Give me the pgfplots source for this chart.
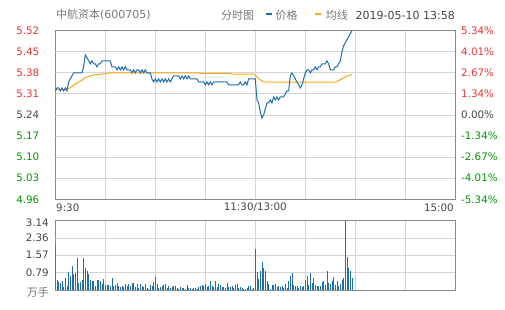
\documentclass[border=0pt]{standalone}
\usepackage{pgfplots}
\usepackage{pgfplotstable}
\pgfplotsset{compat=1.18}
\usepackage{fontspec}
\setmainfont{DejaVu Sans}
\newfontfamily\cjk{Noto Sans CJK SC}
\definecolor{pblue}{RGB}{30,110,175}
\definecolor{porange}{RGB}{250,170,20}
\definecolor{cred}{RGB}{238,50,50}
\definecolor{cgreen}{RGB}{0,150,0}
\definecolor{cdark}{RGB}{68,68,68}
\definecolor{cgray}{RGB}{120,120,120}
\definecolor{gridc}{RGB}{212,212,212}
\definecolor{borderc}{RGB}{135,135,135}

\pgfplotstableread{
t price avg vol
0 5.32 5.322 2.05
1 5.33 5.323 0.45
2 5.33 5.324 0.36
3 5.32 5.324 0.33
4 5.33 5.324 0.42
5 5.32 5.325 0.14
6 5.33 5.325 0.54
7 5.32 5.326 0.17
8 5.35 5.328 0.82
9 5.36 5.331 0.62
10 5.37 5.335 1.07
11 5.38 5.339 0.72
12 5.38 5.343 0.77
13 5.38 5.347 1.45
14 5.38 5.350 0.32
15 5.38 5.353 0.36
16 5.38 5.356 0.44
17 5.40 5.360 1.45
18 5.44 5.364 1.00
19 5.43 5.366 0.85
20 5.42 5.368 0.74
21 5.41 5.370 0.47
22 5.42 5.372 0.42
23 5.41 5.373 0.41
24 5.41 5.374 0.17
25 5.40 5.374 0.45
26 5.41 5.375 0.45
27 5.41 5.375 0.39
28 5.42 5.376 0.29
29 5.42 5.377 0.50
30 5.42 5.377 0.24
31 5.42 5.378 0.24
32 5.42 5.379 0.24
33 5.42 5.380 0.17
34 5.40 5.380 0.54
35 5.40 5.380 0.17
36 5.40 5.380 0.24
37 5.39 5.380 0.32
38 5.40 5.380 0.17
39 5.39 5.380 0.12
40 5.40 5.380 0.17
41 5.39 5.380 0.12
42 5.40 5.380 0.27
43 5.39 5.380 0.17
44 5.39 5.380 0.27
45 5.39 5.380 0.20
46 5.38 5.380 0.30
47 5.39 5.380 0.32
48 5.38 5.380 0.12
49 5.39 5.380 0.27
50 5.39 5.380 0.09
51 5.38 5.380 0.27
52 5.39 5.380 0.20
53 5.38 5.380 0.14
54 5.39 5.380 0.27
55 5.38 5.380 0.09
56 5.38 5.380 0.06
57 5.38 5.380 0.21
58 5.36 5.380 0.17
59 5.35 5.380 0.36
60 5.36 5.380 0.57
61 5.35 5.380 0.27
62 5.36 5.380 0.09
63 5.35 5.380 0.14
64 5.36 5.380 0.17
65 5.35 5.380 0.24
66 5.36 5.380 0.29
67 5.35 5.380 0.09
68 5.36 5.380 0.17
69 5.35 5.380 0.09
70 5.36 5.380 0.12
71 5.37 5.380 0.17
72 5.37 5.380 0.17
73 5.37 5.380 0.09
74 5.37 5.380 0.06
75 5.36 5.380 0.12
76 5.37 5.380 0.09
77 5.36 5.380 0.09
78 5.37 5.380 0.06
79 5.36 5.380 0.24
80 5.37 5.380 0.09
81 5.36 5.380 0.09
82 5.36 5.380 0.06
83 5.36 5.380 0.09
84 5.36 5.380 0.09
85 5.36 5.380 0.06
86 5.35 5.380 0.14
87 5.35 5.378 0.17
88 5.35 5.378 0.21
89 5.35 5.378 0.17
90 5.34 5.378 0.27
91 5.35 5.378 0.14
92 5.34 5.378 0.20
93 5.35 5.378 0.39
94 5.34 5.378 0.17
95 5.35 5.378 0.15
96 5.35 5.378 0.42
97 5.35 5.378 0.12
98 5.35 5.378 0.27
99 5.35 5.378 0.21
100 5.35 5.378 0.12
101 5.35 5.378 0.14
102 5.35 5.378 0.09
103 5.35 5.378 0.30
104 5.34 5.378 0.12
105 5.34 5.378 0.14
106 5.34 5.376 0.17
107 5.34 5.376 0.09
108 5.34 5.376 0.21
109 5.34 5.376 0.27
110 5.34 5.376 0.09
111 5.35 5.376 0.15
112 5.34 5.376 0.09
113 5.34 5.376 0.06
114 5.35 5.376 0.06
115 5.34 5.376 0.09
116 5.36 5.376 0.17
117 5.36 5.376 0.17
118 5.36 5.376 0.06
119 5.36 5.376 0.10
120 5.36 5.372 1.87
121 5.29 5.366 0.82
122 5.28 5.361 0.50
123 5.25 5.357 0.85
124 5.23 5.353 1.27
125 5.24 5.351 1.00
126 5.26 5.349 0.88
127 5.28 5.349 0.42
128 5.28 5.349 0.27
129 5.29 5.349 0.06
130 5.28 5.349 0.24
131 5.30 5.349 0.24
132 5.29 5.349 0.27
133 5.30 5.349 0.12
134 5.29 5.349 0.17
135 5.30 5.349 0.15
136 5.30 5.349 0.17
137 5.30 5.349 0.09
138 5.31 5.349 0.27
139 5.32 5.349 0.09
140 5.32 5.349 0.42
141 5.37 5.349 0.62
142 5.38 5.349 0.77
143 5.37 5.349 0.21
144 5.36 5.349 0.17
145 5.35 5.349 0.17
146 5.34 5.349 0.09
147 5.33 5.349 0.20
148 5.34 5.349 0.12
149 5.36 5.349 0.20
150 5.38 5.349 0.47
151 5.39 5.349 0.62
152 5.39 5.349 0.24
153 5.38 5.349 0.77
154 5.39 5.349 0.32
155 5.39 5.349 0.54
156 5.40 5.349 0.24
157 5.39 5.349 0.17
158 5.40 5.349 0.20
159 5.40 5.349 0.17
160 5.41 5.349 0.36
161 5.41 5.349 0.42
162 5.41 5.349 0.24
163 5.42 5.349 0.88
164 5.41 5.349 0.32
165 5.39 5.349 0.27
166 5.39 5.349 0.42
167 5.39 5.349 0.57
168 5.40 5.349 0.24
169 5.40 5.352 0.42
170 5.41 5.355 0.17
171 5.42 5.357 0.27
172 5.45 5.360 0.47
173 5.47 5.363 0.54
174 5.48 5.367 3.14
175 5.49 5.369 1.48
176 5.50 5.372 1.00
177 5.51 5.373 0.85
178 5.52 5.374 0.54
}\datatable

\begin{document}
\begin{tikzpicture}[
  lab/.style={inner sep=0pt, font=\fontsize{10.3bp}{12bp}\selectfont},
  tit/.style={inner sep=0pt, font=\fontsize{11bp}{13bp}\selectfont},
  gridline/.style={draw=gridc, line width=0.9bp}]
\useasboundingbox (0bp,0bp) rectangle (505bp,310bp);
% price panel
\begin{axis}[anchor=south west, scale only axis, width=400bp,
  at={(55.3bp,110.7bp)}, height=168.6bp,
  xmin=0, xmax=240, xtick={0,30,60,90,120,150,180,210,240},
  xticklabels={}, yticklabels={}, major tick length=0pt,
  axis line style={color=borderc, line width=1bp},
  ymin=4.96, ymax=5.52,
  ytick={4.96,5.03,5.10,5.17,5.24,5.31,5.38,5.45,5.52}]
\pgfplotsinvokeforeach{30,60,90,120,150,180,210}{
  \draw[gridline] (axis cs:#1,4.96) -- (axis cs:#1,5.52);}
\pgfplotsinvokeforeach{5.03,5.10,5.17,5.24,5.31,5.38,5.45}{
  \draw[gridline] (axis cs:0,#1) -- (axis cs:240,#1);}
\addplot[porange, line width=1bp] table[x=t, y=avg] {\datatable};
\addplot[pblue, line width=1bp] table[x=t, y=price] {\datatable};
\end{axis}
% volume panel
\begin{axis}[anchor=south west, scale only axis, width=400bp,
  at={(55.3bp,20bp)}, height=69.3bp,
  xmin=0, xmax=240, xtick={0,30,60,90,120,150,180,210,240},
  xticklabels={}, yticklabels={}, major tick length=0pt,
  axis line style={color=borderc, line width=1bp},
  ymin=0, ymax=3.14,
  ytick={0,0.785,1.57,2.355,3.14}]
\pgfplotsinvokeforeach{30,60,90,120,150,180,210}{
  \draw[gridline] (axis cs:#1,0) -- (axis cs:#1,3.14);}
\pgfplotsinvokeforeach{0.785,1.57,2.355}{
  \draw[gridline] (axis cs:0,#1) -- (axis cs:240,#1);}
\addplot[pblue, ycomb, line width=0.85bp] table[x=t, y=vol] {\datatable};
\end{axis}

% left price labels
\foreach \v/\c [count=\k from 0] in {5.52/cred,5.45/cred,5.38/cred,5.31/cred,5.24/cdark,5.17/cgreen,5.10/cgreen,5.03/cgreen,4.96/cgreen}
  \node[lab, anchor=east, text=\c] at (39.5bp,{279.3bp-\k*21.07bp}) {\v};
% right percentage labels
\foreach \v/\c [count=\k from 0] in {5.34\%/cred,4.01\%/cred,2.67\%/cred,1.34\%/cred,0.00\%/cdark,-1.34\%/cgreen,-2.67\%/cgreen,-4.01\%/cgreen,-5.34\%/cgreen}
  \node[lab, anchor=west, text=\c] at (461bp,{279.3bp-\k*21.07bp}) {\v};
% time labels
\node[lab, anchor=west, text=cdark] at (56bp,102.5bp) {9:30};
\node[lab, anchor=center, text=cdark] at (255.3bp,102.5bp) {11:30/13:00};
\node[lab, anchor=east, text=cdark] at (454bp,102.5bp) {15:00};
% volume labels
\node[lab, anchor=east, text=cdark] at (49bp,87.5bp) {3.14};
\node[lab, anchor=east, text=cdark] at (49bp,72bp) {2.36};
\node[lab, anchor=east, text=cdark] at (49bp,54.7bp) {1.57};
\node[lab, anchor=east, text=cdark] at (49bp,37.3bp) {0.79};
\node[tit, anchor=east, text=cgray] at (49bp,17.5bp) {\cjk 万手};
% title
\node[tit, anchor=west, text=cgray] at (56bp,295bp) {{\cjk 中航资本}(600705)};
\node[tit, anchor=center, text=cgray] at (237.5bp,295bp) {\cjk 分时图};
\draw[pblue, line width=2bp] (266bp,295.5bp) -- (272bp,295.5bp);
\node[tit, anchor=west, text=cgray] at (275.3bp,295bp) {\cjk 价格};
\draw[porange, line width=2bp] (315bp,295.5bp) -- (321bp,295.5bp);
\node[tit, anchor=west, text=cgray] at (325.7bp,295bp) {\cjk 均线};
\node[tit, anchor=east, text=cdark] at (455bp,295bp) {2019-05-10 13:58};
\end{tikzpicture}
\end{document}
